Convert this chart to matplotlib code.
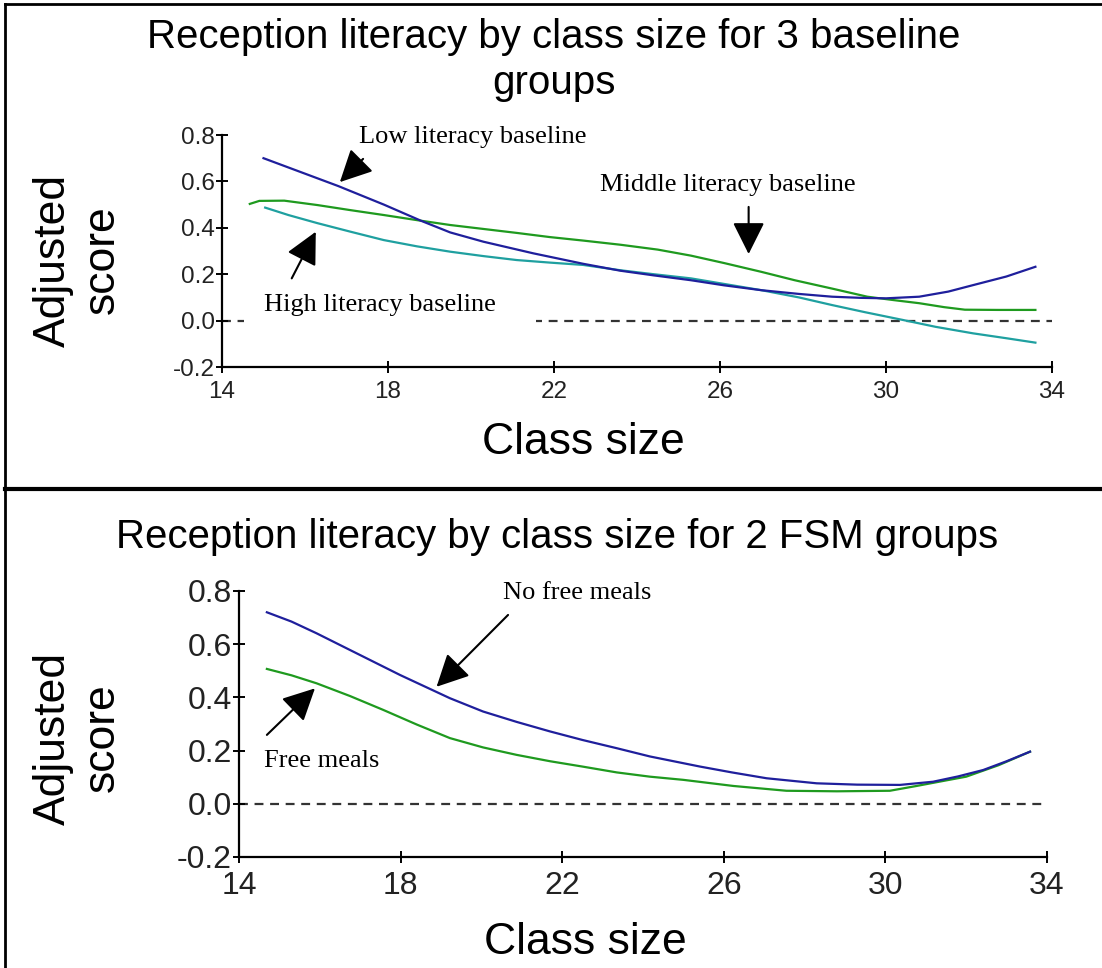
import matplotlib
matplotlib.use("Agg")
import matplotlib.pyplot as plt
from matplotlib.lines import Line2D

plt.rcParams['axes.unicode_minus'] = False
plt.rcParams['font.family'] = ['Liberation Sans', 'DejaVu Sans']

# ---------------- data ----------------
x_ticks = [14, 18, 22, 26, 30, 34]
y_ticks = [-0.2, 0.0, 0.2, 0.4, 0.6, 0.8]

low_x = [15.0, 15.9, 16.8, 17.9, 18.8, 19.5, 20.3, 21.5, 22.7, 23.6, 24.4, 25.3, 26.1,
         27.0, 27.9, 28.7, 29.4, 30.0, 30.8, 31.5, 32.1, 32.9, 33.6]
low_y = [0.70, 0.64, 0.58, 0.50, 0.43, 0.38, 0.34, 0.29, 0.245, 0.215, 0.195, 0.174, 0.152,
         0.131, 0.115, 0.103, 0.098, 0.096, 0.103, 0.125, 0.153, 0.19, 0.232]

mid_x = [14.67, 14.9, 15.5, 16.3, 17.1, 17.9, 18.7, 19.5, 20.3, 21.1, 21.9, 22.7, 23.6,
         24.5, 25.3, 26.1, 27.0, 27.8, 28.7, 29.55, 30.2, 30.8, 31.4, 31.9, 32.7, 33.6]
mid_y = [0.503, 0.516, 0.517, 0.498, 0.476, 0.455, 0.433, 0.412, 0.395, 0.378, 0.36, 0.345,
         0.327, 0.306, 0.28, 0.248, 0.21, 0.174, 0.138, 0.103, 0.088, 0.075, 0.058, 0.047,
         0.046, 0.046]

high_x = [15.04, 15.6, 16.3, 17.1, 17.9, 18.7, 19.5, 20.3, 21.1, 21.9, 22.7, 23.6, 24.4,
          25.3, 26.1, 27.0, 27.9, 28.7, 29.5, 30.4, 31.2, 32.1, 32.9, 33.6]
high_y = [0.487, 0.455, 0.42, 0.383, 0.347, 0.32, 0.297, 0.278, 0.261, 0.25, 0.24, 0.217,
          0.20, 0.182, 0.158, 0.131, 0.10, 0.067, 0.036, 0.003, -0.027, -0.055, -0.076, -0.095]

nofsm_x = [14.69, 15.3, 15.92, 16.75, 17.99, 19.22, 20.04, 20.87, 21.7, 22.5, 23.35, 24.17,
           25.41, 26.2, 27.06, 28.3, 29.3, 30.36, 31.18, 31.8, 32.42, 33.0, 33.58]
nofsm_y = [0.72, 0.685, 0.641, 0.578, 0.484, 0.397, 0.347, 0.308, 0.272, 0.24, 0.209, 0.178,
           0.14, 0.118, 0.096, 0.077, 0.072, 0.071, 0.083, 0.103, 0.127, 0.16, 0.196]

fsm_x = [14.69, 15.3, 15.92, 16.75, 17.57, 18.4, 19.22, 20.04, 20.87, 21.7, 22.5, 23.35,
         24.17, 25.0, 26.24, 27.55, 28.8, 30.11, 30.77, 31.4, 32.0, 32.8, 33.58]
fsm_y = [0.507, 0.483, 0.453, 0.405, 0.353, 0.298, 0.247, 0.212, 0.184, 0.16, 0.14, 0.118,
         0.102, 0.09, 0.067, 0.049, 0.047, 0.049, 0.067, 0.085, 0.102, 0.145, 0.196]

title_top = "Reception literacy by class size for 3 baseline\ngroups"
title_bot = "Reception literacy by class size for 2 FSM groups"
xlabel = "Class size"
ylabel = "Adjusted\nscore"

BLUE = '#1f1f9c'
GREEN = '#1f9a1f'
TEAL = '#1fa0a0'

W, H = 1102, 968
fig = plt.figure(figsize=(W / 100, H / 100), dpi=100)


def px(x, y):
    return x / W, 1 - y / H


def axes_px(left, top, right, bottom):
    return fig.add_axes([left / W, 1 - bottom / H, (right - left) / W, (bottom - top) / H])


def style_axes(ax, tick_fs, xpad, ypad):
    ax.set_xlim(14, 34)
    ax.set_ylim(-0.2, 0.8)
    for s in ('top', 'right'):
        ax.spines[s].set_visible(False)
    for s in ('left', 'bottom'):
        ax.spines[s].set_linewidth(1.6)
        ax.spines[s].set_color('black')
    ax.set_xticks(x_ticks)
    ax.set_yticks(y_ticks)
    ax.set_yticklabels([f"{v:.1f}" for v in y_ticks])
    ax.set_xticklabels([str(v) for v in x_ticks])
    ax.tick_params(direction='inout', length=8, width=1.4, colors='black',
                   labelsize=tick_fs, labelcolor='#222222')
    ax.tick_params(axis='x', pad=xpad)
    ax.tick_params(axis='y', pad=ypad)
    ax.patch.set_visible(False)
    ax.axhline(0, color='#333333', lw=1.6, ls=(0, (4, 3)), zorder=1)


arrow_kw = dict(arrowstyle='-|>,head_length=0.9,head_width=0.45', lw=1.5, color='black',
                shrinkA=0, shrinkB=0, mutation_scale=22)
ann_font = dict(family=['Liberation Serif', 'DejaVu Serif'], fontsize=19)

# ---------------- top panel ----------------
ax1 = axes_px(222, 135, 1052, 367)
style_axes(ax1, 17.5, 6, 1)
ax1.plot(mid_x, mid_y, color=GREEN, lw=1.6, zorder=3)
ax1.plot(high_x, high_y, color=TEAL, lw=1.6, zorder=3)
ax1.plot(low_x, low_y, color=BLUE, lw=1.6, zorder=4)

ax1.text(20.05, 0.79, "Low literacy baseline", ha='center', va='center', clip_on=False, **ann_font)
ax1.annotate("", xy=(16.84, 0.597), xytext=(17.40, 0.697), arrowprops=arrow_kw)
ax1.text(26.19, 0.584, "Middle literacy baseline", ha='center', va='center', **ann_font)
ax1.annotate("", xy=(26.69, 0.287), xytext=(26.69, 0.49), arrowprops=arrow_kw)
ax1.text(15.01, 0.067, "High literacy baseline   ", ha='left', va='center', zorder=2,
         bbox=dict(boxstyle='square,pad=0.76', fc='white', ec='none'), **ann_font)
ax1.annotate("", xy=(16.26, 0.383), xytext=(15.68, 0.182), arrowprops=arrow_kw)

# ---------------- bottom panel ----------------
ax2 = axes_px(239, 591, 1047, 857)
style_axes(ax2, 23, 6, 1)
ax2.plot(fsm_x, fsm_y, color=GREEN, lw=1.6, zorder=3)
ax2.plot(nofsm_x, nofsm_y, color=BLUE, lw=1.6, zorder=4)

ax2.text(22.38, 0.792, "No free meals", ha='center', va='center', clip_on=False, **ann_font)
ax2.annotate("", xy=(18.89, 0.44), xytext=(20.66, 0.71), arrowprops=arrow_kw)
ax2.text(16.04, 0.161, "Free meals", ha='center', va='center', **ann_font)
ax2.annotate("", xy=(15.88, 0.434), xytext=(14.69, 0.259), arrowprops=arrow_kw)

# ---------------- titles and labels ----------------
fig.text(*px(554, 60), title_top, ha='center', va='center', fontsize=29, linespacing=1.3)
fig.text(*px(557, 537), title_bot, ha='center', va='center', fontsize=29)
fig.text(*px(583, 442), xlabel, ha='center', va='center', fontsize=32)
fig.text(*px(585, 943), xlabel, ha='center', va='center', fontsize=32)
fig.text(*px(78, 260), ylabel, ha='center', va='center', rotation=90, fontsize=32,
         linespacing=1.25, multialignment='center')
fig.text(*px(78, 738), ylabel, ha='center', va='center', rotation=90, fontsize=32,
         linespacing=1.25, multialignment='center')

# ---------------- panel borders ----------------
fig.add_artist(Line2D([5 / W, 5 / W], [0, 1 - 4 / H], transform=fig.transFigure,
                      color='black', lw=2))
fig.add_artist(Line2D([5 / W, 1], [1 - 4 / H, 1 - 4 / H], transform=fig.transFigure,
                      color='black', lw=2))
fig.add_artist(Line2D([5 / W, 1], [1 - 489 / H, 1 - 489 / H], transform=fig.transFigure,
                      color='black', lw=3))

fig.savefig("out.png", dpi=100)
